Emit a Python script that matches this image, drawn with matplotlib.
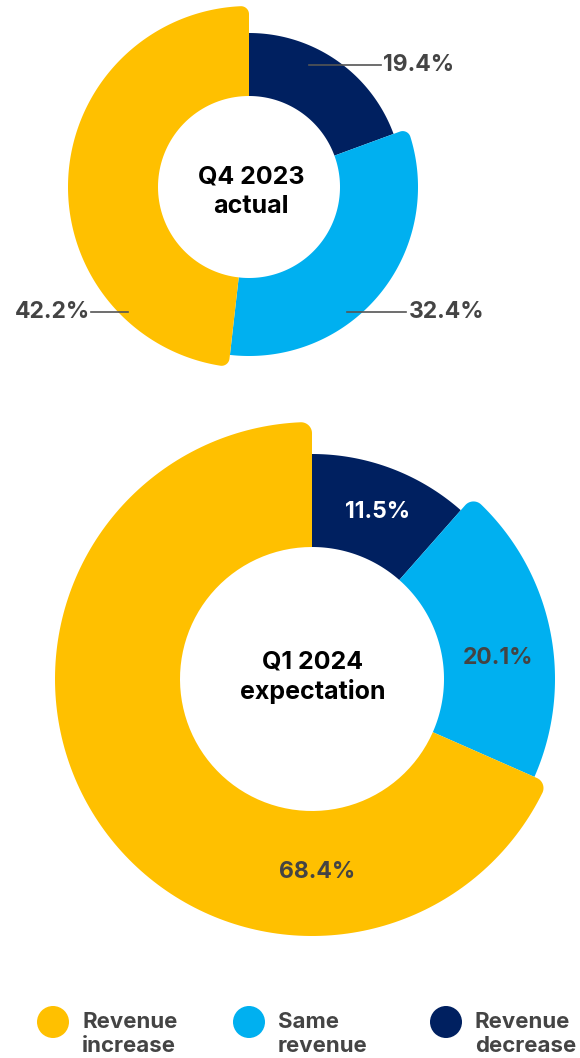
import numpy as np
import matplotlib.pyplot as plt
from matplotlib.path import Path
from matplotlib.patches import PathPatch, Circle

plt.rcParams['font.family'] = ['Inter', 'DejaVu Sans']

# survey shares, clockwise from 12 o'clock
categories = ['Revenue decrease', 'Same revenue', 'Revenue increase']
legend_labels = ['Revenue\nincrease', 'Same\nrevenue', 'Revenue\ndecrease']
q4_2023 = [19.4, 32.4, 42.2]
q1_2024 = [11.5, 20.1, 68.4]

colors = {'Revenue decrease': '#002060',
          'Same revenue': '#00B0F0',
          'Revenue increase': '#FFC000'}
label_grey = '#444444'


def ring_piece(cx, cy, r_in, r_out, t1, t2, round1, round2, rc):
    """Annular sector from t1 to t2 (degrees, CCW) in pixel space
    (y grows downward) with optional rounded outer corners."""
    def pt(x0, y0, r, a):
        a = np.radians(a)
        return x0 + r * np.cos(a), y0 - r * np.sin(a)

    verts = []
    # inner arc, t2 -> t1
    for a in np.linspace(t2, t1, 80):
        verts.append(pt(cx, cy, r_in, a))
    phi = np.degrees(np.arcsin(rc / (r_out - rc)))
    d = np.sqrt((r_out - rc) ** 2 - rc ** 2)
    # corner at t1
    if round1:
        ccx, ccy = pt(cx, cy, r_out - rc, t1 + phi)
        verts.append(pt(cx, cy, d, t1))
        for a in np.linspace(t1 - 90, t1 + phi, 20):
            verts.append(pt(ccx, ccy, rc, a))
        a_start = t1 + phi
    else:
        verts.append(pt(cx, cy, r_out, t1))
        a_start = t1
    a_end = t2 - phi if round2 else t2
    for a in np.linspace(a_start, a_end, 200):
        verts.append(pt(cx, cy, r_out, a))
    if round2:
        ccx, ccy = pt(cx, cy, r_out - rc, t2 - phi)
        for a in np.linspace(t2 - phi, t2 + 90, 20):
            verts.append(pt(ccx, ccy, rc, a))
        verts.append(pt(cx, cy, d, t2))
    verts.append(verts[0])
    codes = [Path.MOVETO] + [Path.LINETO] * (len(verts) - 2) + [Path.CLOSEPOLY]
    return PathPatch(Path(verts, codes), lw=0)


def donut(ax, values, cx, cy, r_in, radii, rc):
    # angles run clockwise from the top; the last slice closes the ring
    bounds = [90.0]
    for v in values[:-1]:
        bounds.append(bounds[-1] - v * 3.6)
    bounds.append(-270.0)
    n = len(values)
    for i, cat in enumerate(categories):
        t_hi, t_lo = bounds[i], bounds[i + 1]
        prev_r = radii[(i - 1) % n]
        next_r = radii[(i + 1) % n]
        p = ring_piece(cx, cy, r_in, radii[i], t_lo, t_hi,
                       next_r < radii[i], prev_r < radii[i], rc)
        p.set_facecolor(colors[cat])
        ax.add_patch(p)


fig = plt.figure(figsize=(5.8, 10.58), dpi=100)
ax = fig.add_axes([0, 0, 1, 1])
ax.set_xlim(0, 580)
ax.set_ylim(1058, 0)
ax.axis('off')

# Q4 2023 actual
donut(ax, q4_2023, 249, 187, 91, [154, 169, 181], 8)
ax.text(251, 192, 'Q4 2023\nactual', ha='center', va='center',
        fontsize=18, fontweight='bold', color='black', linespacing=1.35)

lbl = dict(fontsize=16.5, fontweight='bold', color=label_grey, va='center')
ax.plot([309, 381], [65, 65], color='#555555', lw=1.2)
ax.text(383, 65, f'{q4_2023[0]}%', ha='left', **lbl)
ax.plot([347, 406], [312, 312], color='#555555', lw=1.2)
ax.text(409, 312, f'{q4_2023[1]}%', ha='left', **lbl)
ax.plot([91, 128], [312, 312], color='#555555', lw=1.2)
ax.text(90, 312, f'{q4_2023[2]}%', ha='right', **lbl)

# Q1 2024 expectation
donut(ax, q1_2024, 312, 679, 132, [225, 243, 257], 11)
ax.text(313, 677, 'Q1 2024\nexpectation', ha='center', va='center',
        fontsize=18, fontweight='bold', color='black', linespacing=1.3)
ax.text(378, 512, f'{q1_2024[0]}%', ha='center', color='white',
        **{k: v for k, v in lbl.items() if k != 'color'})
ax.text(498, 658, f'{q1_2024[1]}%', ha='center', **lbl)
ax.text(317, 872, f'{q1_2024[2]}%', ha='center', **lbl)

# legend
leg_x = [53, 249, 446]
leg_cats = ['Revenue increase', 'Same revenue', 'Revenue decrease']
for x, cat, txt in zip(leg_x, leg_cats, legend_labels):
    ax.add_patch(Circle((x, 1022), 16, color=colors[cat], lw=0))
    ax.text(x + 29, 1034, txt, ha='left', va='center', fontsize=16,
            fontweight='bold', color=label_grey, linespacing=1.3)

fig.savefig('out.png', dpi=100)
